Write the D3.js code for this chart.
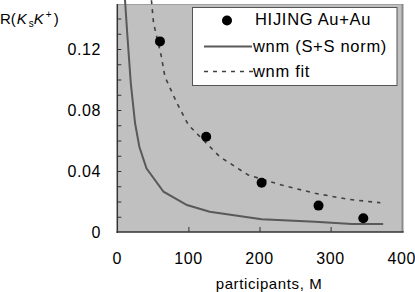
<!DOCTYPE html>
<html><head><meta charset="utf-8">
<script src="https://cdn.jsdelivr.net/npm/d3@7"></script>
<style>
html,body{margin:0;padding:0;background:#fff;}
svg{display:block;font-family:"Liberation Sans",Arial,sans-serif;}
</style></head>
<body>
<svg id="c" width="415" height="292"></svg>
<script>
// HIJING Au+Au points
const hijingM = [60, 125, 203, 283, 346];
const hijingR = [0.125, 0.0625, 0.0323, 0.0173, 0.0090];
// wnm (S+S norm) curve
const wnmM = [9, 14, 19, 25, 31, 41, 65, 98, 130, 203, 278, 330, 374];
const wnmR = [0.165, 0.130, 0.0975, 0.0713, 0.0559, 0.0418, 0.0264, 0.0177, 0.0133, 0.0083, 0.0068, 0.0052, 0.0052];
// wnm fit curve
const fitM = [48, 51, 62, 67, 84, 100, 144, 184, 231, 278, 325, 370];
const fitR = [0.152, 0.1369, 0.115, 0.1018, 0.0844, 0.0702, 0.0494, 0.0374, 0.0308, 0.0254, 0.0214, 0.0192];
// ticks
const xTicks = [0, 100, 200, 300, 400];
const yLabelTicks = [0, 0.04, 0.08, 0.12];
const yMinorTicks = [0.01,0.02,0.03,0.04,0.05,0.06,0.07,0.08,0.09,0.10,0.11,0.12,0.13,0.14];
const legendLabels = ["HIJING Au+Au", "wnm (S+S norm)", "wnm fit"];

const svg = d3.select("#c");
const L = 117.3, R = 401.7, T = 3.25, B = 232;
const x = d3.scaleLinear().domain([0, 400]).range([L, R]);
const y = d3.scaleLinear().domain([0, 0.15]).range([B, T]);

// plot background
svg.append("rect").attr("x", L).attr("y", 4).attr("width", R - L + 1).attr("height", B - 4).attr("fill", "#c0c0c0");
// top border
svg.append("line").attr("x1", L).attr("x2", R + 1).attr("y1", 4.5).attr("y2", 4.5).attr("stroke", "#a0a0a0").attr("stroke-width", 1);
// right border
svg.append("line").attr("x1", R + 0.8).attr("x2", R + 0.8).attr("y1", 4).attr("y2", B).attr("stroke", "#8a8a8a").attr("stroke-width", 2);

// y axis
const yAxis = d3.axisRight(y).tickValues(yMinorTicks).tickSize(4).tickFormat("");
const gy = svg.append("g").attr("transform", `translate(${L},0)`).call(yAxis);
gy.select(".domain").remove();
gy.selectAll(".tick line").attr("stroke", "#333");
svg.append("line").attr("x1", L).attr("x2", L).attr("y1", 4).attr("y2", B + 1).attr("stroke", "#333").attr("stroke-width", 1.5);
svg.selectAll(".ylab").data(yLabelTicks).enter().append("text")
  .attr("x", 101).attr("y", d => y(d)).attr("dy", "0.36em")
  .attr("text-anchor", "end").attr("font-size", 16).attr("fill", "#000")
  .attr("letter-spacing", 0.6)
  .text(d => d3.format("~g")(d));

// x axis
const xAxis = d3.axisTop(x).tickValues([100, 200, 300]).tickSize(5).tickFormat("");
const gx = svg.append("g").attr("transform", `translate(0,${B})`).call(xAxis);
gx.select(".domain").remove();
gx.selectAll(".tick line").attr("stroke", "#333");
svg.append("line").attr("x1", L - 0.75).attr("x2", R + 2).attr("y1", B).attr("y2", B).attr("stroke", "#333").attr("stroke-width", 1.5);
svg.selectAll(".xlab").data(xTicks).enter().append("text")
  .attr("x", d => x(d)).attr("y", 258).attr("dy", "0.36em")
  .attr("text-anchor", "middle").attr("font-size", 16).attr("fill", "#000")
  .attr("letter-spacing", 0.6)
  .text(d => d);

// axis title
svg.append("text").attr("x", 269).attr("y", 284).attr("dy", "0.36em")
  .attr("text-anchor", "middle").attr("font-size", 15).attr("letter-spacing", 0.6).attr("fill", "#000")
  .text("participants, M");

// y title R(K_s K^+)
const yt = svg.append("text").attr("x", 0).attr("y", 24).attr("font-size", 15).attr("fill", "#000");
yt.append("tspan").text("R(");
yt.append("tspan").attr("font-style", "italic").attr("dx", 1).text("K");
yt.append("tspan").attr("font-size", 10).attr("dy", 3).attr("dx", 2).text("s");
yt.append("tspan").attr("font-style", "italic").attr("dy", -3).text("K");
yt.append("tspan").attr("font-size", 10).attr("dy", -6).attr("dx", 2).text("+");
yt.append("tspan").attr("dy", 6).attr("dx", 2).text(")");

// curves
const line = d3.line().x(d => x(d[0])).y(d => y(d[1]));
svg.append("path").datum(wnmM.map((m, i) => [m, wnmR[i]]))
  .attr("d", line).attr("fill", "none").attr("stroke", "#595959").attr("stroke-width", 2);
svg.append("path").datum(fitM.map((m, i) => [m, fitR[i]]))
  .attr("d", line).attr("fill", "none").attr("stroke", "#404040").attr("stroke-width", 1.6)
  .attr("stroke-dasharray", "4,5");

// points
svg.selectAll(".pt").data(hijingM).enter().append("circle")
  .attr("cx", d => x(d)).attr("cy", (d, i) => y(hijingR[i])).attr("r", 5).attr("fill", "#000");

// legend
const lg = svg.append("g");
lg.append("rect").attr("x", 192.5).attr("y", 7.5).attr("width", 204.5).attr("height", 78)
  .attr("fill", "#fff").attr("stroke", "#555").attr("stroke-width", 1);
lg.append("circle").attr("cx", 227).attr("cy", 20.5).attr("r", 5).attr("fill", "#000");
lg.append("line").attr("x1", 204).attr("x2", 252).attr("y1", 46.5).attr("y2", 46.5).attr("stroke", "#595959").attr("stroke-width", 2);
lg.append("line").attr("x1", 204).attr("x2", 254).attr("y1", 71.5).attr("y2", 71.5).attr("stroke", "#404040").attr("stroke-width", 1.6).attr("stroke-dasharray", "4,5");
const ly = [19, 46, 71];
lg.selectAll(".lt").data(legendLabels).enter().append("text")
  .attr("x", (d, i) => i === 0 ? 255 : 253).attr("y", (d, i) => ly[i]).attr("dy", "0.36em")
  .attr("font-size", 16.5).attr("letter-spacing", 0.7).attr("fill", "#000")
  .text(d => d);
</script>
</body></html>
